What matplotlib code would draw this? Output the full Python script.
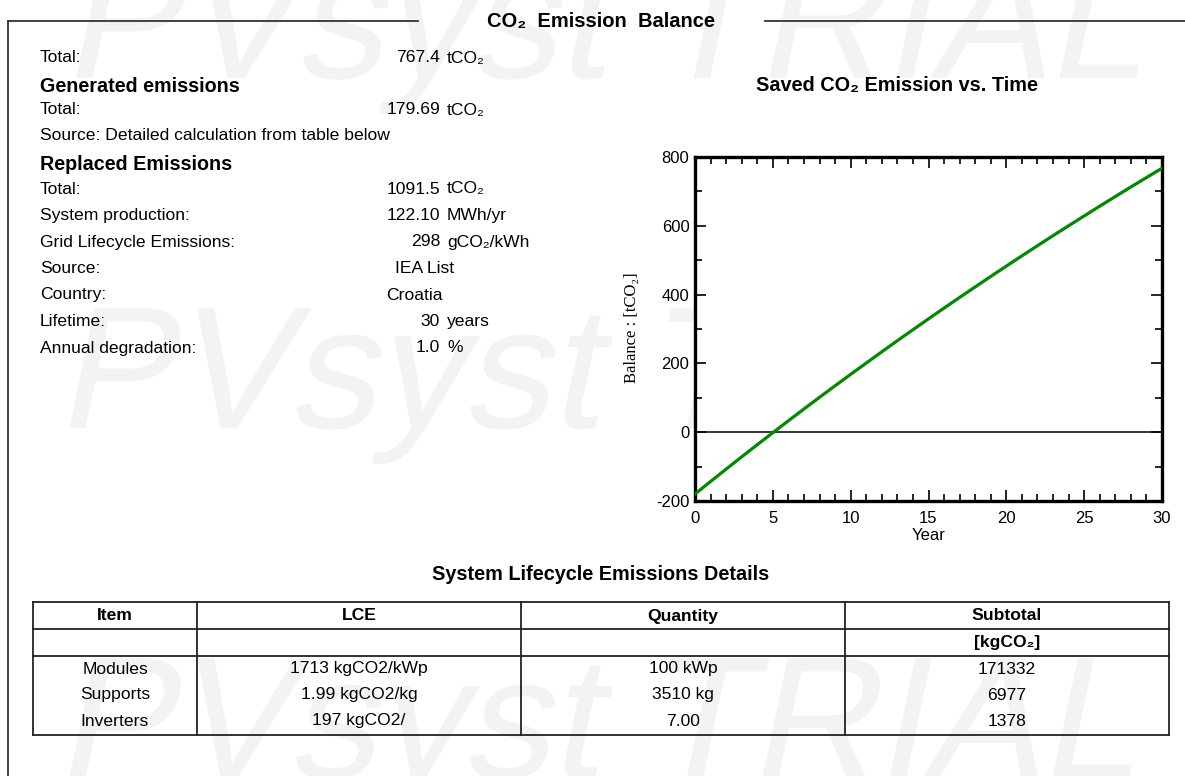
import numpy as np
import matplotlib
matplotlib.use("Agg")
import matplotlib.pyplot as plt
import matplotlib.transforms as mtransforms
from matplotlib.ticker import MultipleLocator
from matplotlib.textpath import TextPath
from matplotlib.patches import PathPatch
from matplotlib.font_manager import FontProperties

plt.rcParams['font.family'] = ['Liberation Sans', 'DejaVu Sans']
plt.rcParams['axes.unicode_minus'] = False

# --- data ---
summary_labels = ["Total:"]
summary_values = [("767.4", "tCO\u2082")]

generated_labels = ["Total:"]
generated_values = [("179.69", "tCO\u2082")]
generated_source = "Source: Detailed calculation from table below"

replaced_labels = ["Total:", "System production:", "Grid Lifecycle Emissions:",
                   "Source:", "Country:", "Lifetime:", "Annual degradation:"]
replaced_values = [("1091.5", "tCO\u2082"), ("122.10", "MWh/yr"),
                   ("298", "gCO\u2082/kWh"), ("IEA List", None),
                   ("Croatia", None), ("30", "years"), ("1.0", "%")]

years = list(range(0, 31))
balance = [-179.7, -143.3, -107.3, -71.6, -36.3, -1.4, 33.2, 67.5, 101.4,
           135.0, 168.2, 201.1, 233.7, 266.0, 297.9, 329.5, 360.8, 391.8,
           422.4, 452.8, 482.9, 512.6, 542.1, 571.3, 600.1, 628.7, 657.0,
           685.0, 712.8, 740.2, 767.4]

table_header = ["Item", "LCE", "Quantity", "Subtotal"]
table_units = ["", "", "", "[kgCO\u2082]"]
items = ["Modules", "Supports", "Inverters"]
lce = ["1713 kgCO2/kWp", "1.99 kgCO2/kg", "197 kgCO2/"]
quantity = ["100 kWp", "3510 kg", "7.00"]
subtotal = [171332, 6977, 1378]

W, H = 1185, 776
fig = plt.figure(figsize=(W / 100, H / 100), dpi=100)

# page overlay in pixel coordinates (y grows downward)
pg = fig.add_axes([0, 0, 1, 1])
pg.set_xlim(0, W)
pg.set_ylim(H, 0)
pg.axis('off')

# watermark: slanted text drawn as a path
wm_prop = FontProperties(family='Liberation Sans')
wm_path = TextPath((0, 0), "PVsyst TRIAL", size=174, prop=wm_prop)
for x0, y0 in [(62, 78), (55, 428), (55, 778)]:
    tr = (mtransforms.Affine2D().skew_deg(12, 0).scale(1, -1)
          .translate(x0, y0) + pg.transData)
    pg.add_patch(PathPatch(wm_path, facecolor='#f3f3f3', edgecolor='none',
                           transform=tr, zorder=0))

# frame and section title
fc = '#333333'
pg.plot([8, 8], [21, H], color=fc, lw=1.3, zorder=2)
pg.plot([8, 418], [21, 21], color=fc, lw=1.3, zorder=2)
pg.plot([765, W], [21, 21], color=fc, lw=1.3, zorder=2)
pg.text(601, 22, "CO\u2082  Emission  Balance", fontsize=14.5,
        fontweight='bold', ha='center', va='center', zorder=3)

fs = 12.6
xl, xv = 40, 440
free_x = {"IEA List": 395, "Croatia": 386}


def value(y, v):
    num, unit = v
    if unit is None:
        pg.text(free_x[num], y, num, fontsize=fs, ha='left', va='center')
    else:
        pg.text(xv, y, num, fontsize=fs, ha='right', va='center')
        pg.text(xv + 7, y, unit, fontsize=fs, ha='left', va='center')


for lab, v in zip(summary_labels, summary_values):
    pg.text(xl, 58, lab, fontsize=fs, va='center')
    value(58, v)
pg.text(xl, 86, "Generated emissions", fontsize=14.2, fontweight='bold',
        va='center')
for lab, v in zip(generated_labels, generated_values):
    pg.text(xl, 110, lab, fontsize=fs, va='center')
    value(110, v)
pg.text(xl, 136, generated_source, fontsize=fs, va='center')
pg.text(xl, 165, "Replaced Emissions", fontsize=14.2, fontweight='bold',
        va='center')
row_y = 189
for lab, v in zip(replaced_labels, replaced_values):
    pg.text(xl, row_y, lab, fontsize=fs, va='center')
    value(row_y, v)
    row_y += 26.5

# chart
pg.text(897, 86, "Saved CO\u2082 Emission vs. Time", fontsize=14.3,
        fontweight='bold', ha='center', va='center')
ax = fig.add_axes([695 / W, 1 - 501 / H, 467 / W, 344 / H])
ax.set_facecolor('white')
ax.plot(years, balance, color='#008a00', lw=2.3, zorder=3)
ax.axhline(0, color='black', lw=1.1, zorder=2)
ax.set_xlim(0, 30)
ax.set_ylim(-200, 800)
ax.xaxis.set_major_locator(MultipleLocator(5))
ax.xaxis.set_minor_locator(MultipleLocator(1))
ax.yaxis.set_major_locator(MultipleLocator(200))
ax.yaxis.set_minor_locator(MultipleLocator(100))
ax.tick_params(which='both', direction='in', top=True, right=True,
               width=1.2, labelsize=12, colors='black')
ax.tick_params(which='major', length=8)
ax.tick_params(axis='y', which='major', pad=4)
ax.tick_params(axis='x', which='major', pad=7)
ax.tick_params(which='minor', length=5)
for s in ax.spines.values():
    s.set_linewidth(2.4)
ax.set_xlabel("Year", fontsize=12, labelpad=2)
pg.text(632, 328, "Balance : [tCO\u2082]", rotation=90, fontsize=12,
        family=['Liberation Serif', 'DejaVu Serif'], ha='center', va='center')

# table
pg.text(601, 575, "System Lifecycle Emissions Details", fontsize=14.3,
        fontweight='bold', ha='center', va='center')
col_edges = [33, 197, 521, 845, 1169]
row_edges = [602, 629, 656, 735]
tc = '#222222'
for xe in col_edges:
    pg.plot([xe, xe], [row_edges[0], row_edges[-1]], color=tc, lw=1.3)
for ye in row_edges:
    pg.plot([col_edges[0], col_edges[-1]], [ye, ye], color=tc, lw=1.3)
centers = [(a + b) / 2 for a, b in zip(col_edges[:-1], col_edges[1:])]
for cx, h, u in zip(centers, table_header, table_units):
    pg.text(cx, 616, h, fontsize=12.6, fontweight='bold', ha='center',
            va='center')
    if u:
        pg.text(cx, 643, u, fontsize=12.6, fontweight='bold', ha='center',
                va='center')
for i, row in enumerate(zip(items, lce, quantity, subtotal)):
    ry = 669 + 26 * i
    for cx, cell in zip(centers, row):
        pg.text(cx, ry, str(cell), fontsize=12.6, ha='center', va='center')

fig.savefig("out.png", dpi=100)
